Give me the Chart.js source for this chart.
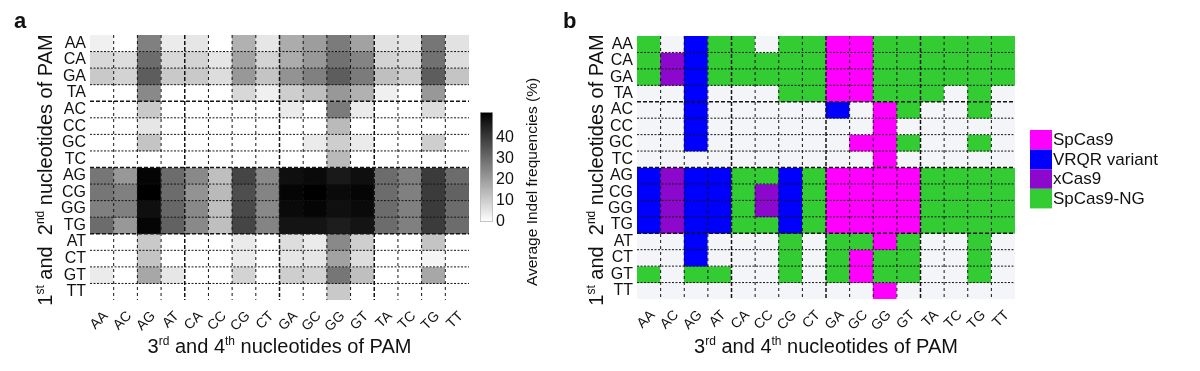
<!DOCTYPE html>
<html>
<head>
<meta charset="utf-8">
<title>PAM heatmaps</title>
<script src="https://cdn.jsdelivr.net/npm/chart.js@4.4.1/dist/chart.umd.min.js"></script>
<style>
  html, body { margin: 0; padding: 0; background: #fff; }
  #wrap { position: relative; width: 1200px; height: 371px; overflow: hidden; }
  .panel { position: absolute; top: 0; height: 371px; }
  #panelA { left: 0; width: 520px; }
  #colorbar { left: 470px; width: 90px; }
  #panelB { left: 560px; width: 640px; }
</style>
</head>
<body>
<div id="wrap">
  <div class="panel" id="panelA"><canvas id="aCanvas"></canvas></div>
  <div class="panel" id="colorbar"><canvas id="cbCanvas"></canvas></div>
  <div class="panel" id="panelB"><canvas id="bCanvas"></canvas></div>
</div>
<script>
const FONT = '"Liberation Sans", Arial, Helvetica, sans-serif';

// 1st+2nd nucleotides (rows), 3rd+4th nucleotides (columns)
const ROWS = ['AA','CA','GA','TA','AC','CC','GC','TC','AG','CG','GG','TG','AT','CT','GT','TT'];
const COLS = ['AA','AC','AG','AT','CA','CC','CG','CT','GA','GC','GG','GT','TA','TC','TG','TT'];

// panel a: average indel frequency (%), one line per row of ROWS
const INDEL = [
  [ 3, 0,26, 4, 5, 0,16, 5,17,20,27,19, 6, 5,28, 6],
  [ 8, 7,30, 8, 9, 5,19, 9,17,21,29,25, 9, 8,29, 7],
  [11, 9,33,11,11, 7,21,12,22,26,33,27,13,10,33,12],
  [ 0, 0,24, 0, 0, 0, 8, 3,10,13,21,16, 3, 0,21, 0],
  [ 0, 0,11, 0, 0, 0, 0, 0, 4, 0,27, 4, 0, 0, 7, 0],
  [ 0, 0, 5, 0, 0, 0, 0, 0, 0, 0,14, 0, 0, 0, 0, 0],
  [ 0, 0,12, 0, 0, 0, 0, 0, 0, 4,10, 4, 0, 0,10, 0],
  [ 0, 0, 0, 0, 0, 0, 0, 0, 0, 0,14, 0, 0, 0, 0, 0],
  [28,21,51,30,24,13,38,24,49,50,47,49,30,26,40,30],
  [28,26,52,30,22,14,36,25,51,52,50,51,30,26,40,32],
  [26,26,49,31,24,13,37,24,50,51,49,50,30,26,40,30],
  [30,21,51,32,24,13,38,25,48,48,46,48,30,26,40,30],
  [ 0, 0,11, 0, 0, 0, 4, 0, 7, 4,24,10, 0, 0,12, 0],
  [ 0, 0,12, 0, 0, 0, 4, 0, 5, 5,19, 7, 0, 0, 2, 0],
  [ 4, 0,18, 5, 0, 0, 9, 0,10, 9,28,13, 0, 0,18, 0],
  [ 0, 0, 0, 0, 0, 0, 0, 0, 0, 0,11, 0, 0, 0, 0, 0],
];
const CB_MAX = 52;
const CB_TICKS = [0, 10, 20, 30, 40];

// panel b: which variant works best (0 = none, n = VARIANTS[n-1])
const VARIANTS = ['SpCas9', 'VRQR variant', 'xCas9', 'SpCas9-NG'];
const VARIANT_COLORS = ['#ff00ff', '#0000ff', '#8b08cc', '#33cc33'];
const EMPTY_COLOR = '#f4f5f9';
const BEST = [
  [4,0,2,4,4,0,4,4,1,1,4,4,4,4,4,4],
  [4,3,2,4,4,4,4,4,1,1,4,4,4,4,4,4],
  [4,3,2,4,4,4,4,4,1,1,4,4,4,4,4,4],
  [0,0,2,0,0,0,4,4,1,1,4,4,4,0,4,0],
  [0,0,2,0,0,0,0,0,2,0,1,4,0,0,4,0],
  [0,0,2,0,0,0,0,0,0,0,1,0,0,0,0,0],
  [0,0,2,0,0,0,0,0,0,1,1,4,0,0,4,0],
  [0,0,0,0,0,0,0,0,0,0,1,0,0,0,0,0],
  [2,3,2,2,4,4,2,4,1,1,1,1,4,4,4,4],
  [2,3,2,2,4,3,2,4,1,1,1,1,4,4,4,4],
  [2,3,2,2,4,3,2,4,1,1,1,1,4,4,4,4],
  [2,3,2,2,4,4,2,4,1,1,1,1,4,4,4,4],
  [0,0,2,0,0,0,4,0,4,4,1,4,0,0,4,0],
  [0,0,2,0,0,0,4,0,4,1,4,4,0,0,4,0],
  [4,0,4,4,0,0,4,0,4,1,4,4,0,0,4,0],
  [0,0,0,0,0,0,0,0,0,0,1,0,0,0,0,0],
];

const X_TITLE = [{ t: '3' }, { t: 'rd', sup: true }, { t: ' and 4' }, { t: 'th', sup: true }, { t: ' nucleotides of PAM' }];
const Y_TITLE = [{ t: '1' }, { t: 'st', sup: true }, { t: ' and  2' }, { t: 'nd', sup: true }, { t: ' nucleotides of PAM' }];

Chart.defaults.font.family = FONT;
Chart.defaults.color = '#111';

function grayOf(v) {
  const g = Math.round(255 * (1 - Math.min(v, CB_MAX) / CB_MAX));
  return `rgb(${g},${g},${g})`;
}

// text with superscripts, centred on (x, y) baseline
function drawRich(ctx, parts, x, y, size, rot) {
  const big = `${size}px ${FONT}`;
  const small = `${Math.round(size * 0.62)}px ${FONT}`;
  ctx.save();
  ctx.translate(x, y);
  ctx.rotate(rot);
  ctx.textAlign = 'left';
  ctx.textBaseline = 'alphabetic';
  let total = 0;
  parts.forEach(p => { ctx.font = p.sup ? small : big; total += ctx.measureText(p.t).width; });
  let cx = -total / 2;
  parts.forEach(p => {
    ctx.font = p.sup ? small : big;
    ctx.fillText(p.t, cx, p.sup ? -size * 0.42 : 0);
    cx += ctx.measureText(p.t).width;
  });
  ctx.restore();
}

// dashed cell borders, heavier every 4 cells
const dashedGrid = {
  id: 'dashedGrid',
  afterDatasetsDraw(chart) {
    const { ctx, chartArea: a, scales: { x, y } } = chart;
    ctx.save();
    ctx.strokeStyle = '#151515';
    for (let i = 1; i < COLS.length; i++) {
      const px = (x.getPixelForValue(i - 1) + x.getPixelForValue(i)) / 2;
      const major = i % 4 === 0;
      ctx.lineWidth = major ? 1.5 : 1;
      ctx.setLineDash(major ? [4, 2] : [3, 3]);
      ctx.beginPath(); ctx.moveTo(px, a.top); ctx.lineTo(px, a.bottom); ctx.stroke();
    }
    for (let i = 1; i < ROWS.length; i++) {
      const py = y.getPixelForValue(i);
      const major = i % 4 === 0;
      ctx.lineWidth = major ? 1.5 : 1;
      ctx.setLineDash(major ? [4, 2] : [2, 1.5]);
      ctx.beginPath(); ctx.moveTo(a.left, py); ctx.lineTo(a.right, py); ctx.stroke();
    }
    ctx.restore();
  }
};

function panelText(o) {
  return {
    id: 'panelText',
    afterDraw(chart) {
      const { ctx, chartArea: a } = chart;
      ctx.save();
      ctx.fillStyle = '#111';
      ctx.font = `bold 22px ${FONT}`;
      ctx.textBaseline = 'alphabetic';
      ctx.fillText(o.letter, o.letterX, 28);
      drawRich(ctx, X_TITLE, (a.left + a.right) / 2, 353, 20, 0);
      drawRich(ctx, Y_TITLE, o.yTitleX, 170, 20, -Math.PI / 2);
      if (o.legend) {
        VARIANTS.forEach((name, i) => {
          const top = 130 + i * 19.6;
          ctx.fillStyle = VARIANT_COLORS[i];
          ctx.fillRect(470, top, 22, 19.6);
          ctx.fillStyle = '#111';
          ctx.font = `17px ${FONT}`;
          ctx.textBaseline = 'middle';
          ctx.fillText(name, 493, top + 10.5);
        });
      }
      ctx.restore();
    }
  };
}

function heatmap(id, colorOf, o) {
  return new Chart(document.getElementById(id), {
    type: 'bar',
    data: {
      labels: COLS,
      datasets: ROWS.map((row, r) => ({
        label: row,
        data: COLS.map(() => [r, r + 1]),
        backgroundColor: COLS.map((_, c) => colorOf(r, c)),
        borderWidth: 0,
        barPercentage: 1,
        categoryPercentage: 1,
        grouped: false,
      })),
    },
    options: {
      responsive: true,
      maintainAspectRatio: false,
      animation: false,
      layout: { padding: { top: o.top, right: o.right, bottom: 0, left: 0 } },
      plugins: { legend: { display: false }, tooltip: { enabled: false } },
      scales: {
        x: {
          type: 'category',
          offset: true,
          grid: { display: false, drawTicks: false },
          border: { display: false },
          ticks: { autoSkip: false, minRotation: 45, maxRotation: 45, padding: 8, labelOffset: 4, font: { size: 14 } },
          afterFit: s => { s.height = o.xAxisH; },
        },
        y: {
          type: 'linear',
          min: 0,
          max: ROWS.length,
          reverse: true,
          grid: { display: false, drawTicks: false },
          border: { display: false },
          afterBuildTicks: s => { s.ticks = ROWS.map((_, i) => ({ value: i + 0.5 })); },
          ticks: { autoSkip: false, padding: 4, font: { size: 16 }, callback: (v, i) => ROWS[i] },
          afterFit: s => { s.width = o.yAxisW; },
        },
      },
    },
    plugins: [dashedGrid, panelText(o)],
  });
}

heatmap('aCanvas', (r, c) => grayOf(INDEL[r][c]),
  { top: 35, right: 51, xAxisH: 71, yAxisW: 90, letter: 'a', letterX: 14, yTitleX: 52 });

heatmap('bCanvas', (r, c) => BEST[r][c] ? VARIANT_COLORS[BEST[r][c] - 1] : EMPTY_COLOR,
  { top: 36, right: 185, xAxisH: 72, yAxisW: 77, letter: 'b', letterX: 3, yTitleX: 43, legend: true });

// colour bar for panel a
const cbTitle = {
  id: 'cbTitle',
  afterDraw(chart) {
    const { ctx } = chart;
    ctx.save();
    ctx.fillStyle = '#111';
    ctx.font = `15.5px ${FONT}`;
    ctx.textAlign = 'center';
    ctx.textBaseline = 'alphabetic';
    ctx.translate(67, 182);
    ctx.rotate(-Math.PI / 2);
    ctx.fillText('Average Indel frequencies (%)', 0, 0);
    ctx.restore();
  }
};

new Chart(document.getElementById('cbCanvas'), {
  type: 'bar',
  data: {
    labels: [''],
    datasets: [{
      data: [[0, CB_MAX]],
      backgroundColor: c => {
        const a = c.chart.chartArea;
        if (!a) return '#888';
        const g = c.chart.ctx.createLinearGradient(0, a.bottom, 0, a.top);
        g.addColorStop(0, grayOf(0));
        g.addColorStop(1, grayOf(CB_MAX));
        return g;
      },
      borderColor: '#b5b5b5',
      borderWidth: 1,
      borderSkipped: false,
      barPercentage: 1,
      categoryPercentage: 1,
    }],
  },
  options: {
    responsive: true,
    maintainAspectRatio: false,
    animation: false,
    layout: { padding: { top: 112, bottom: 149, left: 10, right: 0 } },
    plugins: { legend: { display: false }, tooltip: { enabled: false } },
    scales: {
      x: { display: false },
      y: {
        position: 'right',
        min: 0,
        max: CB_MAX,
        grid: { display: false, drawTicks: false },
        border: { display: false },
        afterBuildTicks: s => { s.ticks = CB_TICKS.map(v => ({ value: v })); },
        ticks: { padding: 3, font: { size: 16 } },
        afterFit: s => { s.width = 67; },
      },
    },
  },
  plugins: [cbTitle],
});
</script>
</body>
</html>
